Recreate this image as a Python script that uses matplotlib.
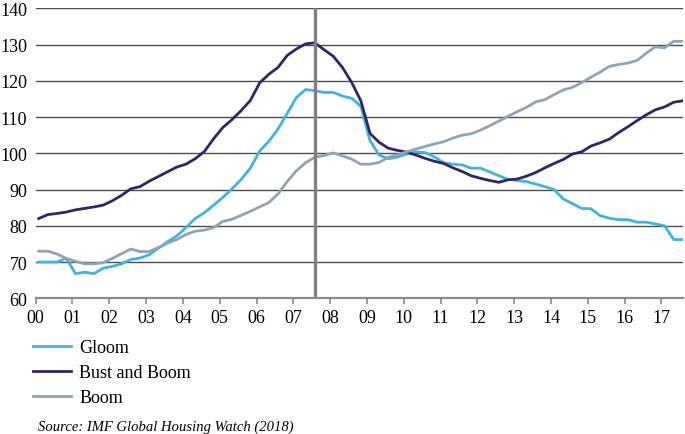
import numpy as np
from matplotlib import pyplot as plt

# quarterly house price indices, 2000Q1 - 2017Q3
gloom = [70, 70, 70, 71, 66.8, 67.2, 66.8, 68.3, 68.8, 69.5,
         70.7, 71.1, 72, 73.8, 75.6, 77.2, 79.5, 82, 83.6, 85.7,
         87.8, 90.2, 92.8, 95.9, 100.6, 103.3, 106.7, 111, 115.4, 117.6,
         117.3, 116.8, 116.8, 115.8, 115.2, 113, 103.5, 99.5, 98.5, 99,
         99.8, 100.4, 100.2, 99, 97.4, 97, 96.8, 95.9, 95.9, 94.9,
         93.8, 92.8, 92.5, 92.2, 91.5, 90.8, 90, 87.4, 86.1, 84.8,
         84.7, 82.8, 82.1, 81.7, 81.7, 81, 81, 80.5, 80, 76.2,
         76.2]
bust_and_boom = [82, 83.1, 83.4, 83.8, 84.4, 84.8, 85.2, 85.7, 86.9, 88.4,
                 90.2, 90.8, 92.3, 93.6, 94.9, 96.2, 97, 98.5, 100.5, 104,
                 107.1, 109.3, 111.8, 114.6, 119.4, 121.8, 123.7, 127, 128.8, 130.2,
                 130.5, 128.6, 126.8, 123.7, 119.6, 114.5, 105.5, 103, 101.4, 100.8,
                 100.3, 99.5, 98.6, 97.8, 97.2, 96, 95, 93.8, 93.1, 92.5,
                 92, 92.7, 92.9, 93.7, 94.7, 96, 97.2, 98.3, 99.8, 100.4,
                 102, 102.9, 103.9, 105.7, 107.3, 109, 110.6, 112, 112.8, 114.1,
                 114.5]
boom = [73, 73, 72.2, 71, 70.2, 69.5, 69.5, 69.8, 71, 72.3,
        73.6, 72.9, 72.9, 74, 75.2, 76.2, 77.6, 78.5, 78.8, 79.5,
        81.2, 81.8, 82.9, 84, 85.2, 86.4, 88.8, 92.2, 95.2, 97.4,
        98.9, 99.4, 100.1, 99.3, 98.4, 97, 97, 97.5, 98.9, 99.6,
        100.4, 101.2, 101.9, 102.6, 103.2, 104.2, 105, 105.4, 106.4, 107.6,
        108.9, 110.2, 111.5, 112.7, 114.2, 114.8, 116.2, 117.5, 118.2, 119.5,
        121, 122.4, 124, 124.5, 124.9, 125.6, 127.6, 129.4, 129.1, 130.9,
        130.9]
year_labels = ["%02d" % y for y in range(18)]
peak_quarter = 30  # 2007Q3

series = [("Gloom", gloom, "#3DB5E4"),
          ("Bust and Boom", bust_and_boom, "#2D2668"),
          ("Boom", boom, "#8DA4B9")]

plt.rcParams['font.family'] = ['Liberation Serif', 'DejaVu Serif']

# years since 2000, observations dated in the middle month of each quarter
t = np.arange(len(gloom)) / 4 + 1 / 12

fig = plt.figure(figsize=(6.85, 4.35), dpi=100)
ax = fig.add_axes([0.052, 0.312, 0.945, 0.6665])

for name, values, color in series:
    ax.plot(t, values, color=color, lw=2.0, label=name, zorder=3)

ax.axvline(t[peak_quarter], color="#808080", lw=2.4, zorder=4)

ax.set_xlim(0, t[-1])
ax.set_ylim(60, 140)
ax.set_yticks(range(60, 141, 10))
ax.set_xticks(range(18))
ax.set_xticklabels(year_labels)
ax.yaxis.grid(True, color="#4d4d4d", lw=1.0)
ax.set_axisbelow(True)

for side in ["left", "right", "top"]:
    ax.spines[side].set_visible(False)
ax.spines["bottom"].set_color("#8c8c8c")
ax.spines["bottom"].set_linewidth(1.6)
ax.spines["bottom"].set_zorder(5)

ax.tick_params(axis="y", length=0, pad=6, labelsize=13)
ax.tick_params(axis="x", direction="out", length=4, width=1.2, color="#8c8c8c",
               pad=4, labelsize=13)

fig.legend(loc="upper left", bbox_to_anchor=(33 / 685, 1 - 340 / 435),
           frameon=False, fontsize=13, handlelength=2.1, handletextpad=0.45,
           labelspacing=0.45, borderpad=0, borderaxespad=0)

fig.text(37.7 / 685, 1 - 427 / 435, "Source: IMF Global Housing Watch (2018)",
         fontsize=10.5, style="italic", va="center", ha="left")

fig.savefig("out.png", dpi=100)
